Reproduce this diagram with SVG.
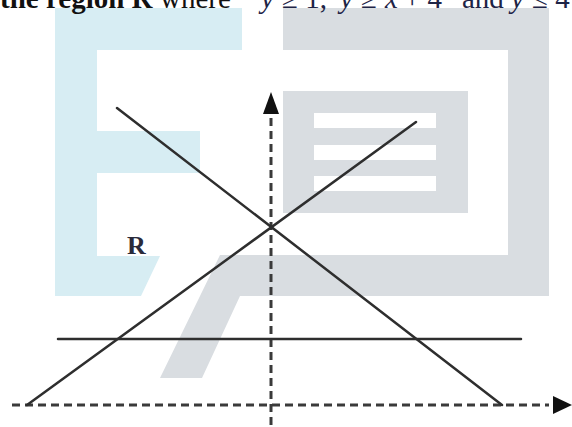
<svg xmlns="http://www.w3.org/2000/svg" width="572" height="427" viewBox="0 0 572 427">
<style>
.wm-b{fill:#d7edf3}
.wm-g{fill:#d9dde1}
.ln{stroke:#2e2e2e;stroke-width:2.5;fill:none;stroke-linecap:round}
.ax{stroke:#3a3a3a;stroke-width:3;fill:none;stroke-dasharray:8 5}
.ah{fill:#111}
.t{font-family:"Liberation Serif",serif;font-size:29px;fill:#111}
.m{font-family:"Liberation Serif",serif;font-size:29px;font-style:italic;fill:#1e2446}
.mn{font-family:"Liberation Serif",serif;font-size:29px;fill:#1e2446}
.lbl{font-family:"Liberation Serif",serif;font-size:26px;font-weight:bold;fill:#2a2a3a}
</style>
<rect width="572" height="427" fill="#fff"/>
<g id="watermark">
<polygon class="wm-b" points="55,8 242,8 242,50 97,50 97,131 200,131 200,173 97,173 97,256 160,256 141,296 55,296"/>
<polygon class="wm-g" points="283,8 549,8 549,296 240,296 202,378 160,378 220,255 508,255 508,50 283,50"/>
<rect class="wm-g" x="283" y="91" width="185" height="122"/>
<rect fill="#fff" x="314" y="113" width="122" height="15"/>
<rect fill="#fff" x="314" y="145" width="122" height="15"/>
<rect fill="#fff" x="314" y="176" width="122" height="15"/>
</g>
<g id="title">
<text class="t" x="0" y="8" font-weight="bold">the region R</text>
<text class="t" x="160" y="8">where</text>
<text class="m" x="261" y="8">y</text>
<text class="mn" x="282" y="8">≥ 1,</text>
<text class="m" x="340" y="8">y</text>
<text class="mn" x="361" y="8">≥</text>
<text class="m" x="385" y="8">x</text>
<text class="mn" x="404" y="8">+ 4</text>
<text class="mn" x="462" y="8">and</text>
<text class="m" x="511" y="8">y</text>
<text class="mn" x="532" y="8">≤ 4</text>
</g>
<g id="connectors">
<line class="ax" x1="271" y1="118" x2="271" y2="427"/>
<polygon class="ah" points="271,92 263,114 279,114"/>
<line class="ax" x1="12" y1="405" x2="549" y2="405"/>
<polygon class="ah" points="572,405 553,396 553,414"/>
<line class="ln" x1="117" y1="108" x2="502" y2="405"/>
<line class="ln" x1="416" y1="122" x2="27" y2="405"/>
<line class="ln" x1="58" y1="339" x2="521" y2="339"/>
</g>
<g id="label-R">
<text class="lbl" x="127" y="254">R</text>
</g>
</svg>
